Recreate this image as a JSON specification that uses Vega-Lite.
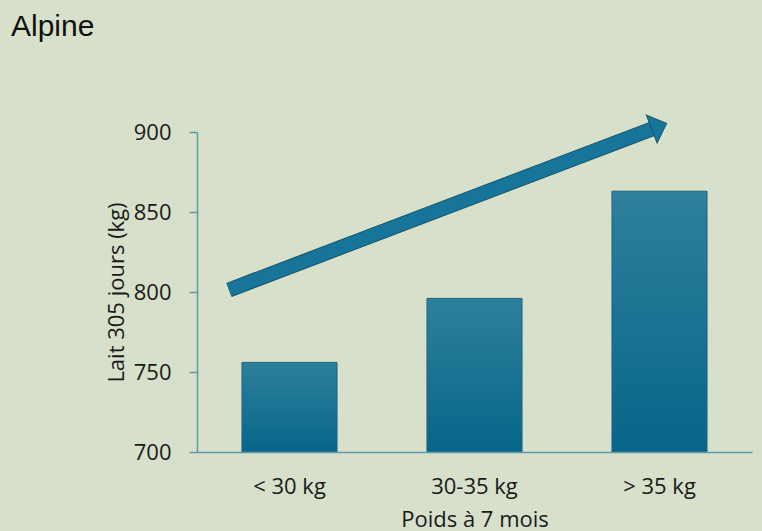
{
  "$schema": "https://vega.github.io/schema/vega-lite/v6.json",
  "width": 555,
  "height": 320,
  "autosize": {"type": "none"},
  "padding": {"left": 197, "top": 132, "right": 10, "bottom": 79},
  "background": "#d7e0ca",
  "title": {
    "text": "Alpine",
    "anchor": "start",
    "frame": "group",
    "dx": -186,
    "offset": 47,
    "baseline": "alphabetic",
    "font": "Liberation Sans",
    "fontSize": 30,
    "fontWeight": "normal",
    "color": "#111111"
  },
  "config": {
    "view": {"stroke": null},
    "axis": {"grid": false}
  },
  "datasets": {
    "bars": [
      {"poids": "< 30 kg", "lait": 756, "base": 700},
      {"poids": "30-35 kg", "lait": 796, "base": 700},
      {"poids": "> 35 kg", "lait": 863, "base": 700}
    ],
    "shaft": [
      {"pos": 0.173, "lait": 801.3, "pos2": 2.463, "lait2": 902.1}
    ],
    "head": [
      {"pos": 2.539, "lait": 905.4}
    ]
  },
  "layer": [
    {
      "data": {"name": "bars"},
      "mark": {
        "type": "bar",
        "stroke": "#1f6482",
        "strokeWidth": 1,
        "color": {
          "gradient": "linear",
          "x1": 0, "y1": 0, "x2": 0, "y2": 1,
          "stops": [
            {"offset": 0, "color": "#2e809c"},
            {"offset": 1, "color": "#066689"}
          ]
        }
      },
      "encoding": {
        "x": {
          "field": "poids",
          "type": "nominal",
          "sort": null,
          "scale": {"paddingInner": 0.486, "paddingOuter": 0.243},
          "axis": {
            "title": "Poids à 7 mois",
            "labelAngle": 0,
            "ticks": false,
            "labelPadding": 24,
            "labelFont": "Open Sans",
            "labelFontSize": 22,
            "labelColor": "#1a1a1a",
            "titleFont": "Open Sans",
            "titleFontSize": 22,
            "titleFontWeight": "normal",
            "titleColor": "#1a1a1a",
            "titlePadding": 12,
            "domainColor": "#5f9aa6",
            "domainWidth": 1.5,
            "zindex": 1
          }
        },
        "y": {
          "field": "lait",
          "type": "quantitative",
          "scale": {"domain": [700, 900], "zero": false, "nice": false},
          "axis": {
            "title": "Lait 305 jours (kg)",
            "values": [700, 750, 800, 850, 900],
            "tickSize": 8,
            "tickColor": "#5f9aa6",
            "tickWidth": 1.5,
            "labelPadding": 18,
            "labelFont": "Open Sans",
            "labelFontSize": 22,
            "labelColor": "#1a1a1a",
            "titleFont": "Open Sans",
            "titleFontSize": 22,
            "titleFontWeight": "normal",
            "titleColor": "#1a1a1a",
            "titlePadding": 5,
            "domainColor": "#5f9aa6",
            "domainWidth": 1.5
          }
        },
        "y2": {"field": "base"}
      }
    },
    {
      "data": {"name": "shaft"},
      "mark": {"type": "rule", "strokeWidth": 15, "color": "#17566e", "strokeCap": "butt"},
      "encoding": {
        "x": {"field": "pos", "type": "quantitative", "scale": {"domain": [0, 3], "nice": false, "zero": true}, "axis": null},
        "x2": {"field": "pos2"},
        "y": {"field": "lait", "type": "quantitative"},
        "y2": {"field": "lait2"}
      }
    },
    {
      "data": {"name": "shaft"},
      "mark": {"type": "rule", "strokeWidth": 13, "color": "#17759a", "strokeCap": "butt"},
      "encoding": {
        "x": {"field": "pos", "type": "quantitative", "scale": {"domain": [0, 3], "nice": false, "zero": true}, "axis": null},
        "x2": {"field": "pos2"},
        "y": {"field": "lait", "type": "quantitative"},
        "y2": {"field": "lait2"}
      }
    },
    {
      "data": {"name": "head"},
      "mark": {
        "type": "point",
        "shape": "M0,0L-1.07,-1L-1.07,1Z",
        "size": 900,
        "angle": 339.15,
        "filled": true,
        "color": "#17759a",
        "stroke": "#17566e",
        "strokeWidth": 1,
        "opacity": 1
      },
      "encoding": {
        "x": {"field": "pos", "type": "quantitative", "scale": {"domain": [0, 3], "nice": false, "zero": true}, "axis": null},
        "y": {"field": "lait", "type": "quantitative"}
      }
    }
  ],
  "resolve": {"scale": {"x": "independent"}}
}
